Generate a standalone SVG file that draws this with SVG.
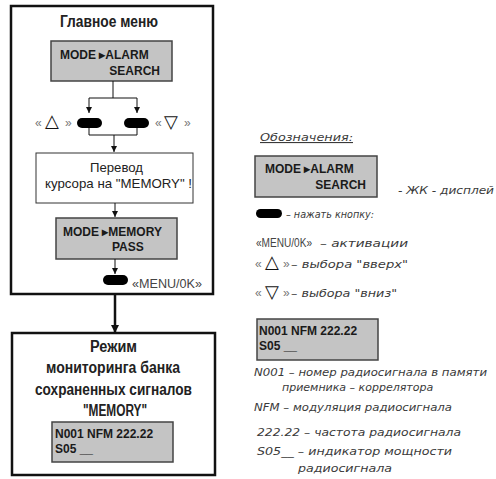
<svg xmlns="http://www.w3.org/2000/svg" width="496" height="479" viewBox="0 0 496 479">
  <defs>
    <style>
      .frame { fill: #fff; stroke: #111; stroke-width: 2.5; }
      .box { fill: #fff; stroke: #333; stroke-width: 1; }
      .lcd { fill: #c4c4c4; stroke: #444; stroke-width: 1.5; }
      .lcdt { font-family: "Liberation Sans", Arial, sans-serif; font-weight: bold; font-size: 12px; fill: #1a1a1a; }
      .ttl { font-family: "Liberation Sans", Arial, sans-serif; font-weight: bold; font-size: 16px; fill: #222; text-anchor: middle; }
      .txt { font-family: "Liberation Sans", Arial, sans-serif; font-size: 13px; fill: #222; text-anchor: middle; }
      .note { font-family: "DejaVu Sans", sans-serif; font-style: italic; font-size: 11px; fill: #3a3a3a; }
      .key { font-family: "Liberation Sans", Arial, sans-serif; font-size: 12px; fill: #444; }
      .quo { font-family: "Liberation Sans", Arial, sans-serif; font-size: 12px; fill: #777; }
      .sym { font-family: "DejaVu Sans", sans-serif; font-weight: bold; font-size: 18px; fill: #111; }
      .btn { fill: #000; }
      .wire { fill: none; stroke: #111; stroke-width: 1; }
      .thick { fill: none; stroke: #111; stroke-width: 2.5; }
    </style>
    <marker id="ah" markerWidth="6" markerHeight="6" refX="6" refY="3" orient="auto" markerUnits="userSpaceOnUse">
      <path d="M0,0 L6,3 L0,6 z" fill="#111"/>
    </marker>
    <marker id="ahBig" markerWidth="8" markerHeight="8" refX="8" refY="4" orient="auto" markerUnits="userSpaceOnUse">
      <path d="M0,0 L8,4 L0,8 z" fill="#111"/>
    </marker>
  </defs>

  <!-- main menu frame -->
  <g id="main-menu">
    <rect class="frame" x="11" y="6" width="202" height="288"/>
    <text class="ttl" x="109" y="27" textLength="98" lengthAdjust="spacingAndGlyphs">Главное меню</text>
  </g>

  <g id="lcd-alarm">
    <rect class="lcd" x="51" y="41" width="121" height="40"/>
    <text class="lcdt" x="60" y="59">MODE ▸ALARM</text>
    <text class="lcdt" x="160" y="75" text-anchor="end">SEARCH</text>
  </g>

  <g id="btn-up">
    <rect class="btn" x="77" y="118" width="25" height="10" rx="5"/>
    <text x="35" y="127"><tspan class="quo">«</tspan><tspan class="sym" x="45">△</tspan><tspan class="quo" x="65">»</tspan></text>
  </g>

  <g id="btn-down">
    <rect class="btn" x="124" y="118" width="25" height="10" rx="5"/>
    <text x="155" y="127"><tspan class="quo">«</tspan><tspan class="sym" x="164" y="128">▽</tspan><tspan class="quo" x="184" y="127">»</tspan></text>
  </g>

  <g id="cursor-step">
    <rect class="box" x="36" y="153" width="157" height="50"/>
    <text class="txt" x="116.5" y="172" textLength="53" lengthAdjust="spacingAndGlyphs">Перевод</text>
    <text class="txt" x="118.5" y="188" textLength="147" lengthAdjust="spacingAndGlyphs">курсора на "MEMORY" !</text>
  </g>

  <g id="lcd-memory">
    <rect class="lcd" x="56" y="218" width="121" height="41"/>
    <text class="lcdt" x="63" y="236">MODE ▸MEMORY</text>
    <text class="lcdt" x="112" y="251">PASS</text>
  </g>

  <g id="btn-menu">
    <rect class="btn" x="103" y="275" width="25" height="10" rx="5"/>
    <text class="key" x="132" y="288" textLength="70" lengthAdjust="spacingAndGlyphs">«MENU/0K»</text>
  </g>

  <!-- memory monitoring mode -->
  <g id="memory-mode">
    <rect class="frame" x="12" y="333" width="203" height="142"/>
    <text class="ttl" x="113.5" y="352" textLength="47" lengthAdjust="spacingAndGlyphs">Режим</text>
    <text class="ttl" x="113" y="373" textLength="134" lengthAdjust="spacingAndGlyphs">мониторинга банка</text>
    <text class="ttl" x="113.5" y="395" textLength="157" lengthAdjust="spacingAndGlyphs">сохраненных сигналов</text>
    <text class="ttl" x="115" y="416" textLength="64" lengthAdjust="spacingAndGlyphs">"MEMORY"</text>
    <rect class="lcd" x="52" y="422" width="121" height="40"/>
    <text class="lcdt" x="55" y="438">N001 NFM 222.22</text>
    <text class="lcdt" x="55" y="453">S05 __</text>
  </g>

  <!-- connectors -->
  <g id="connectors">
    <path class="wire" d="M113,81 V98 M89,98 H137"/>
    <path class="wire" d="M89,98 V113" marker-end="url(#ah)"/>
    <path class="wire" d="M137,98 V113" marker-end="url(#ah)"/>
    <path class="wire" d="M89,128 V135 H137 V128"/>
    <path class="wire" d="M114,135 V152" marker-end="url(#ah)"/>
    <path class="wire" d="M115,203 V217" marker-end="url(#ah)"/>
    <path class="wire" d="M115,259 V274" marker-end="url(#ah)"/>
    <path class="thick" d="M115,295 V333" marker-end="url(#ahBig)"/>
  </g>

  <!-- legend -->
  <g id="legend">
    <text class="note" x="260" y="141" text-decoration="underline" textLength="93" lengthAdjust="spacingAndGlyphs">Обозначения:</text>
    <rect class="lcd" x="255" y="156" width="122" height="41"/>
    <text class="lcdt" x="265" y="173">MODE ▸ALARM</text>
    <text class="lcdt" x="366" y="189" text-anchor="end">SEARCH</text>
    <text class="note" x="398" y="194" textLength="96" lengthAdjust="spacingAndGlyphs">- ЖК - дисплей</text>

    <rect class="btn" x="256" y="209" width="26" height="9" rx="4.5"/>
    <text class="note" x="286" y="218" textLength="88" lengthAdjust="spacingAndGlyphs">– нажать кнопку:</text>

    <text class="key" x="256" y="247" textLength="56" lengthAdjust="spacingAndGlyphs">«MENU/0K»</text>
    <text class="note" x="320" y="247" textLength="88" lengthAdjust="spacingAndGlyphs">– активации</text>

    <text x="255" y="268"><tspan class="quo">«</tspan><tspan class="sym" x="265">△</tspan><tspan class="quo" x="283">»</tspan></text>
    <text class="note" x="291" y="268" textLength="117" lengthAdjust="spacingAndGlyphs">–  выбора "вверх"</text>

    <text x="255" y="297"><tspan class="quo">«</tspan><tspan class="sym" x="265" y="298">▽</tspan><tspan class="quo" x="283" y="297">»</tspan></text>
    <text class="note" x="291" y="297" textLength="106" lengthAdjust="spacingAndGlyphs">–  выбора "вниз"</text>

    <rect class="lcd" x="257" y="319" width="121" height="41"/>
    <text class="lcdt" x="259" y="335">N001 NFM 222.22</text>
    <text class="lcdt" x="259" y="350">S05 __</text>

    <text class="note" x="254" y="376" textLength="233" lengthAdjust="spacingAndGlyphs">N001 – номер радиосигнала в памяти</text>
    <text class="note" x="282" y="391">приемника – коррелятора</text>
    <text class="note" x="254" y="411" textLength="198" lengthAdjust="spacingAndGlyphs">NFM – модуляция радиосигнала</text>
    <text class="note" x="257" y="436" textLength="204" lengthAdjust="spacingAndGlyphs">222.22 – частота радиосигнала</text>
    <text class="note" x="257" y="455" textLength="195" lengthAdjust="spacingAndGlyphs">S05__ – индикатор мощности</text>
    <text class="note" x="298" y="472" textLength="94" lengthAdjust="spacingAndGlyphs">радиосигнала</text>
  </g>
</svg>
